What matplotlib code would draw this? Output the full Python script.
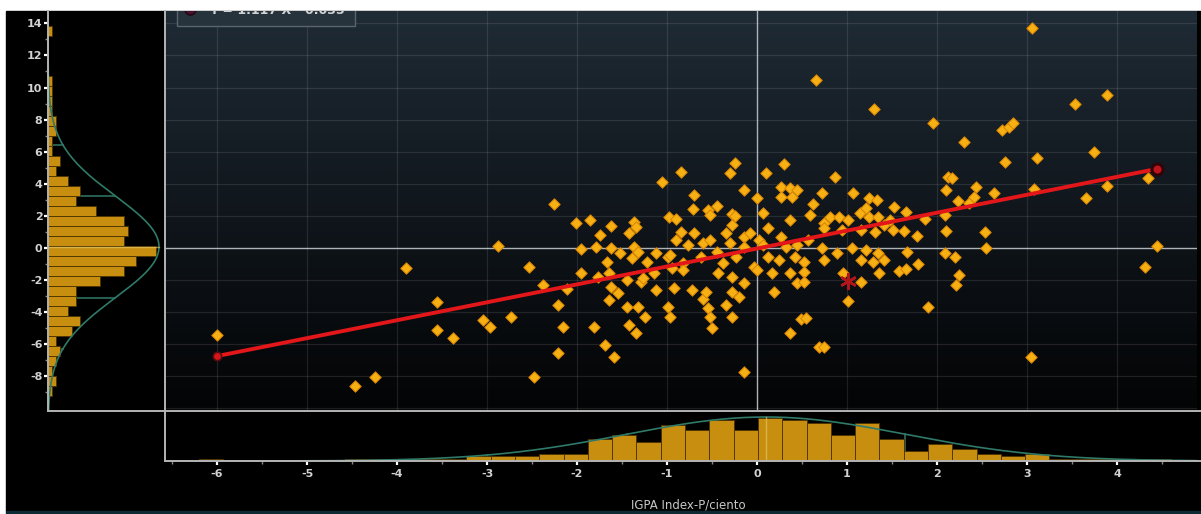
import numpy as np
import matplotlib.pyplot as plt
from matplotlib.patches import Rectangle
from matplotlib.lines import Line2D
from matplotlib.colors import LinearSegmentedColormap

plt.rcParams['axes.unicode_minus'] = False

# monthly % changes: IGPA index (x) vs the other series (y)
igpa_x = [-6.00, -4.47, -4.24, -3.90, -3.56, -3.56, -3.38, -3.04, -2.97, -2.88,
          -2.73, -2.48, -2.53, -2.38, -2.26, -2.21, -2.21, -2.16, -2.11, -2.01,
          -1.96, -1.96, -1.86, -1.81, -1.79, -1.77, -1.74, -1.69, -1.67, -1.64,
          -1.64, -1.62, -1.62, -1.62, -1.59, -1.54, -1.52, -1.44, -1.44, -1.42,
          -1.42, -1.39, -1.37, -1.37, -1.34, -1.34, -1.32, -1.32, -1.29, -1.27,
          -1.24, -1.22, -1.15, -1.12, -1.12, -1.06, -0.99, -0.99, -0.98, -0.97,
          -0.97, -0.95, -0.92, -0.90, -0.90, -0.85, -0.85, -0.82, -0.82, -0.77,
          -0.72, -0.71, -0.70, -0.70, -0.62, -0.60, -0.60, -0.57, -0.55, -0.55,
          -0.52, -0.52, -0.52, -0.50, -0.45, -0.45, -0.43, -0.38, -0.35, -0.35,
          -0.30, -0.30, -0.28, -0.28, -0.28, -0.28, -0.28, -0.25, -0.24, -0.23,
          -0.20, -0.15, -0.15, -0.15, -0.15, -0.15, -0.08, -0.03, 0.00, 0.00,
          0.02, 0.07, 0.07, 0.10, 0.12, 0.12, 0.17, 0.19, 0.24, 0.27,
          0.27, 0.27, 0.30, 0.32, 0.37, 0.37, 0.37, 0.37, 0.39, 0.42,
          0.44, 0.44, 0.44, 0.49, 0.52, 0.52, 0.52, 0.54, 0.57, 0.59,
          0.62, 0.65, 0.69, 0.72, 0.72, 0.74, 0.74, 0.74, 0.74, 0.81,
          0.87, 0.89, 0.91, 0.94, 0.96, 1.01, 1.01, 1.06, 1.07, 1.14,
          1.16, 1.16, 1.16, 1.21, 1.21, 1.24, 1.25, 1.29, 1.30, 1.31,
          1.33, 1.34, 1.34, 1.36, 1.41, 1.41, 1.48, 1.51, 1.52, 1.58,
          1.63, 1.66, 1.66, 1.67, 1.78, 1.79, 1.87, 1.90, 1.96, 2.09,
          2.09, 2.10, 2.10, 2.12, 2.17, 2.20, 2.21, 2.23, 2.25, 2.30,
          2.36, 2.41, 2.43, 2.53, 2.54, 2.63, 2.72, 2.76, 2.80, 2.85,
          3.05, 3.06, 3.08, 3.11, 3.53, 3.66, 3.74, 3.89, 3.89, 4.31,
          4.35, 4.45]
other_y = [-5.40, -8.60, -8.04, -1.25, -3.36, -5.10, -5.60, -4.50, -4.90, 0.12,
           -4.32, -8.02, -1.17, -2.31, 2.74, -3.56, -6.57, -4.91, -2.58, 1.53,
           -0.09, -1.54, 1.74, -4.91, 0.08, -1.79, 0.81, -6.05, -0.86, -1.58,
           -3.24, 1.37, -0.02, -2.41, -6.78, -2.83, -0.29, -2.00, -3.66, 0.91,
           -4.80, -0.65, 1.64, 0.08, 1.33, -5.32, -0.23, -3.66, -2.10, -1.89,
           -4.28, -0.86, -1.58, -0.29, -2.62, 4.13, -0.54, -3.66, 1.95, -0.44,
           -4.28, -1.27, -2.52, 1.78, 0.49, 4.75, 1.01, -0.96, -1.38, 0.18,
           -2.62, 2.41, 3.30, 0.91, -0.54, 0.33, -3.20, -2.73, 2.36, -3.76,
           2.05, 0.49, -4.28, -5.01, 2.63, -0.23, -1.58, -0.96, 0.91, -3.56,
           4.65, 0.29, 2.11, 1.43, -1.79, -2.73, -4.28, 2.02, 5.31, -0.54,
           -3.04, 3.61, 0.70, 0.08, -2.21, -7.71, 0.91, -1.17, 3.09, -1.38,
           0.49, 2.16, 0.18, 4.65, 1.22, -0.54, -1.58, -2.73, -0.75, 3.82,
           3.19, 0.70, 5.21, 0.08, 3.71, 1.74, -1.58, -5.32, 3.19, -0.54,
           3.61, 0.18, -2.21, -4.45, -0.86, -1.48, -2.10, -4.39, 0.49, 2.05,
           2.74, 10.46, -6.15, 3.44, -0.02, 1.53, 1.22, -0.75, -6.19, 1.95,
           4.44, -0.34, 1.95, 1.12, -1.58, 1.74, -3.29, -0.02, 3.44, 2.16,
           1.12, -0.75, -2.10, 2.47, -0.13, 1.95, 3.09, -0.86, 8.64, 1.01,
           2.99, 1.95, -0.34, -1.58, 1.43, -0.75, 1.74, 1.12, 2.57, -1.42,
           1.08, 2.26, -1.33, -0.23, 0.74, -1.00, 1.78, -3.66, 7.81, 2.05,
           -0.29, 3.61, 1.08, 4.44, 4.34, -0.58, -2.31, 2.95, -1.69, 6.58,
           2.82, 3.15, 3.82, 1.01, -0.02, 3.44, 7.35, 5.38, 7.56, 7.81,
           -6.82, 13.70, 3.65, 5.62, 8.95, 3.09, 6.00, 9.53, 3.86, -1.17,
           4.34, 0.14]

# regression shown in the legend
slope, intercept = 1.117, -0.035
last_point = (1.01, -2.06)

# marginal histogram of x (bins of 0.27 starting at -6.2)
x_bin_start, x_bin_w = -6.2, 0.27
x_counts = [1, 0, 0, 0, 0, 0, 1, 1, 1, 1, 1, 2, 2, 2, 3, 3, 9, 11, 8, 15,
            13, 17, 13, 18, 17, 16, 11, 16, 9, 4, 7, 5, 3, 2, 3, 1, 1, 1, 1, 1]
x_fit = dict(mu=0.10, sd=1.55, peak=18.3)

# marginal histogram of y (bins of 0.623 starting at -9.205)
y_bin_start, y_bin_w = -9.205, 0.623
y_counts = [1, 2, 1, 2, 3, 2, 6, 8, 5, 7, 7, 13, 19, 22, 27, 19, 20, 19, 12, 7,
            8, 5, 2, 3, 1, 1, 2, 2, 1, 1, 1, 1, 0, 0, 0, 0, 1]
y_fit = dict(mu=0.07, sd=3.17, peak=27.75)

W, H = 1201, 514
XLIM = (-6.578, 4.889)
YLIM = (-10.16, 14.77)
BAR = '#c78e10'
BAR_EDGE = '#4a3200'
FIT = '#2f7a68'
FRAME = '#b4b4b4'
TXT = '#d2d2d2'

fig = plt.figure(figsize=(W / 100, H / 100), dpi=100, facecolor='white')

def fx(px):
    return px / W

def fy(py):
    return 1 - py / H

# black screen area + dark strip at the bottom
fig.patches.append(Rectangle((fx(6), fy(511)), 1 - fx(6), (511 - 11) / H,
                             transform=fig.transFigure, color='black', zorder=-10))
fig.patches.append(Rectangle((fx(6), 0), 1 - fx(6), 3 / H,
                             transform=fig.transFigure, color='#0c2a33', zorder=-10))

# ---- main scatter ----
ax = fig.add_axes([fx(165), fy(411), (1197 - 165) / W, 400 / H])
cmap = LinearSegmentedColormap.from_list('bg', ['#1f2b35', '#10161c', '#030405'])
ax.imshow(np.linspace(0, 1, 256).reshape(-1, 1), cmap=cmap, aspect='auto',
          extent=[XLIM[0], XLIM[1], YLIM[0], YLIM[1]], zorder=0)
ax.set_xlim(XLIM)
ax.set_ylim(YLIM)
ax.set_xticks(range(-6, 5))
ax.set_yticks(range(-10, 15, 2))
ax.grid(True, color='white', alpha=0.1, lw=0.9)
ax.tick_params(length=0, labelbottom=False, labelleft=False)
for s in ax.spines.values():
    s.set_visible(False)
ax.axhline(0, color='#a4abb2', lw=1.0, zorder=1)
ax.axvline(0, color='#a4abb2', lw=1.0, zorder=1)

ax.scatter(igpa_x, other_y, marker='D', s=34, facecolor='#f6b014',
           edgecolor='#d68200', linewidth=0.7, zorder=3)

xl = np.array([min(igpa_x), max(igpa_x)])
ax.plot(xl, slope * xl + intercept, color='#e3161a', lw=2.8, zorder=4,
        solid_capstyle='round')
ax.plot(xl[0], slope * xl[0] + intercept, 'o', ms=6, mfc='#d8161a',
        mec='#5a0c10', mew=1.2, zorder=5)
ax.plot(xl[1], slope * xl[1] + intercept, 'o', ms=8, mfc='#c0141c',
        mec='#300408', mew=2.2, zorder=5)
ax.plot(*last_point, marker=(6, 2, 0), ms=12, mec='#b3161a', mew=1.8, zorder=5)

# legend box, clipped by the top of the plot
ax.add_patch(Rectangle((-6.44, 13.83), 1.97, 1.5, facecolor='#26323c',
                       edgecolor='#5a646e', lw=1, zorder=6))
ax.plot(-6.30, 14.9, 'o', ms=8, mfc='#4a1030', mec='#20060f', zorder=7)
ax.text(-6.09, 14.82, 'Y = %.3f X - %.3f' % (slope, abs(intercept)),
        color=TXT, fontsize=9, fontweight='bold', va='center', ha='left',
        zorder=7, clip_on=True)

# ---- left histogram (y) ----
axl = fig.add_axes([fx(48), fy(411), (165 - 48) / W, 400 / H])
axl.set_facecolor('none')
axl.set_xlim(0, 29.25)
axl.set_ylim(YLIM)
y_edges = y_bin_start + y_bin_w * np.arange(len(y_counts))
axl.barh(y_edges, y_counts, height=y_bin_w, align='edge', color=BAR,
         edgecolor=BAR_EDGE, linewidth=0.6, zorder=2)
yy = np.linspace(YLIM[0], YLIM[1], 500)
axl.plot(y_fit['peak'] * np.exp(-0.5 * ((yy - y_fit['mu']) / y_fit['sd']) ** 2),
         yy, color=FIT, lw=1.2, zorder=3)
for k in (-2, -1, 1, 2):
    yk = y_fit['mu'] + k * y_fit['sd']
    xk = y_fit['peak'] * np.exp(-0.5 * k ** 2)
    axl.plot([0, xk], [yk, yk], color=FIT, lw=1.1, zorder=1)
axl.plot([0, y_fit['peak']], [y_fit['mu']] * 2, color='#e8cf70', lw=1, alpha=0.6, zorder=3)
axl.set_yticks(range(-8, 15, 2))
axl.set_yticks(range(-9, 14, 2), minor=True)
axl.set_xticks([])
axl.tick_params(axis='y', which='major', direction='out', length=3, width=1.6,
                color='white', labelcolor=TXT, labelsize=8, pad=1)
axl.tick_params(axis='y', which='minor', direction='out', length=2, width=1,
                color='#888888')
for lab in axl.get_yticklabels():
    lab.set_fontweight('bold')
for s in axl.spines.values():
    s.set_visible(False)

# ---- bottom histogram (x) ----
axb = fig.add_axes([fx(165), fy(461), (1197 - 165) / W, 50 / H])
axb.set_facecolor('none')
axb.set_xlim(XLIM)
axb.set_ylim(0, 20.8)
x_edges = x_bin_start + x_bin_w * np.arange(len(x_counts))
axb.bar(x_edges, x_counts, width=x_bin_w, align='edge', color=BAR,
        edgecolor=BAR_EDGE, linewidth=0.6, zorder=2)
xx = np.linspace(XLIM[0], XLIM[1], 500)
axb.plot(xx, x_fit['peak'] * np.exp(-0.5 * ((xx - x_fit['mu']) / x_fit['sd']) ** 2),
         color=FIT, lw=1.2, zorder=3)
for k in (-2, -1, 1, 2):
    xk = x_fit['mu'] + k * x_fit['sd']
    axb.plot([xk, xk], [0, x_fit['peak'] * np.exp(-0.5 * k ** 2)], color=FIT,
             lw=1.1, zorder=1)
axb.plot([x_fit['mu']] * 2, [0, x_fit['peak']], color='#e8cf70', lw=1, alpha=0.6, zorder=3)
axb.set_xticks(range(-6, 5))
axb.set_xticks(np.arange(-6.5, 5, 1.0), minor=True)
axb.set_yticks([])
axb.tick_params(axis='x', which='major', direction='out', length=3, width=1.6,
                color='white', labelcolor=TXT, labelsize=8, pad=3)
axb.tick_params(axis='x', which='minor', direction='out', length=2, width=1,
                color='#888888')
for lab in axb.get_xticklabels():
    lab.set_fontweight('bold')
for s in axb.spines.values():
    s.set_visible(False)

fig.text(fx(688), fy(505), 'IGPA Index-P/ciento', color='#c8c8c8', fontsize=8.5,
         ha='center', va='center')

# frame lines between the panels
for (x0, y0, x1, y1) in [(48, 11, 48, 411), (48, 411, 1201, 411),
                         (165, 11, 165, 461), (165, 461, 1201, 461)]:
    fig.add_artist(Line2D([fx(x0), fx(x1)], [fy(y0), fy(y1)], color=FRAME,
                          lw=1.4, transform=fig.transFigure, zorder=20))

fig.savefig('out.png', dpi=100, facecolor=fig.get_facecolor())
